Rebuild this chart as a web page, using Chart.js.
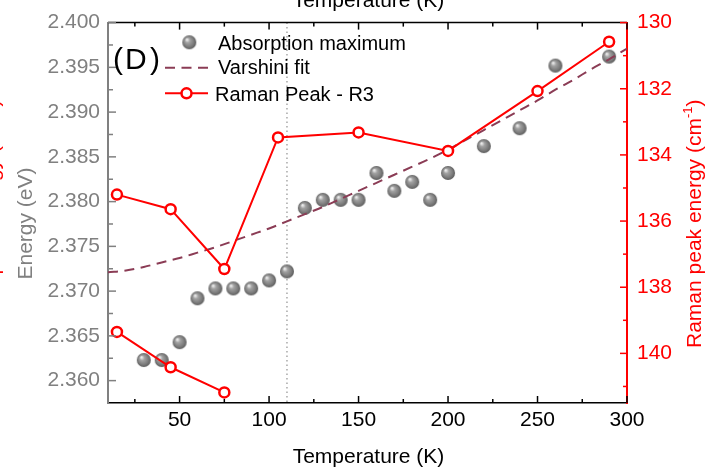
<!DOCTYPE html>
<html>
<head>
<meta charset="utf-8">
<title>Absorption maximum and Raman peak vs temperature</title>
<script src="https://cdn.jsdelivr.net/npm/chart.js@4.4.1/dist/chart.umd.min.js"></script>
<style>
  html, body { margin: 0; padding: 0; background: #fff; }
  #wrap { width: 723px; height: 472px; }
</style>
</head>
<body>
<div id="wrap"><canvas id="chart" width="723" height="472"></canvas></div>
<script>
// ── Values ──
var absorptionT = [30, 40, 50, 60, 70, 80, 90, 100, 110, 120, 130, 140, 150, 160, 170, 180, 190, 200, 220, 240, 260, 290];
var absorptionE = [2.3623, 2.3623, 2.3643, 2.3692, 2.3703, 2.3703, 2.3703, 2.3712, 2.3722, 2.3793, 2.3802, 2.3802,
                   2.3802, 2.3832, 2.3812, 2.3822, 2.3802, 2.3832, 2.3862, 2.3882, 2.3952, 2.3962];

var varshiniT = [10, 20, 30, 40, 50, 60, 70, 80, 90, 100, 110, 120, 130, 140, 150,
                 160, 170, 180, 190, 200, 210, 220, 230, 240, 250, 260, 270, 280, 290, 300];
var varshiniE = [2.3721, 2.3723, 2.3727, 2.3732, 2.3737, 2.3743, 2.3749, 2.3756, 2.3763, 2.3770, 2.3778, 2.3786, 2.3794, 2.3803, 2.3812,
                 2.3821, 2.3830, 2.3839, 2.3848, 2.3858, 2.3869, 2.3880, 2.3891, 2.3902, 2.3913, 2.3925, 2.3936, 2.3948, 2.3959, 2.3971];

var ramanT = [15, 45, 75, 105, 150, 200, 250, 290];
var ramanW = [135.20, 135.64, 137.45, 133.47, 133.32, 133.88, 132.07, 130.58];
// lower branch, drawn as its own line
var ramanLowT = [15, 45, 75];
var ramanLowW = [139.35, 140.42, 141.18];

var xTicks = [50, 100, 150, 200, 250, 300];
var xMinor = [25, 75, 125, 175, 225, 275];
var energyTicks = [2.360, 2.365, 2.370, 2.375, 2.380, 2.385, 2.390, 2.395, 2.400];
var energyMinor = [2.3625, 2.3675, 2.3725, 2.3775, 2.3825, 2.3875, 2.3925, 2.3975];
var ramanTicks = [130, 132, 134, 136, 138, 140];
var ramanMinor = [131, 133, 135, 137, 139, 141];
var markerT = 110;

var FONT = '"Liberation Sans", Arial, Helvetica, sans-serif';
var GREY = '#808080';
var RED = '#ff0000';
var FIT = '#8b3c55';

function pairs(xs, ys) {
  return xs.map(function (x, i) { return { x: x, y: ys[i] }; });
}

// shaded ball used for the absorption points
function sphereImage(r) {
  var c = document.createElement('canvas');
  c.width = c.height = r * 2 + 2;
  var g = c.getContext('2d');
  var cx = r + 1, cy = r + 1;
  var grad = g.createRadialGradient(cx - r * 0.35, cy - r * 0.4, r * 0.08, cx, cy, r);
  grad.addColorStop(0, '#ececec');
  grad.addColorStop(0.3, '#a2a2a2');
  grad.addColorStop(0.75, '#7a7a7a');
  grad.addColorStop(1, '#5c5c5c');
  g.fillStyle = grad;
  g.beginPath();
  g.arc(cx, cy, r, 0, Math.PI * 2);
  g.fill();
  return c;
}
var ball = sphereImage(7);

function fixSize(prop, v) {
  return function (s) { s[prop] = v; };
}
function setTicks(list) {
  return function (s) { s.ticks = list.map(function (v) { return { value: v }; }); };
}

function tickMarks(ctx, scale, values, len, side, area) {
  values.forEach(function (v) {
    var p = scale.getPixelForValue(v);
    ctx.beginPath();
    if (side === 'bottom') { ctx.moveTo(p, area.bottom); ctx.lineTo(p, area.bottom - len); }
    else if (side === 'top') { ctx.moveTo(p, area.top); ctx.lineTo(p, area.top + len); }
    else if (side === 'left') { ctx.moveTo(area.left, p); ctx.lineTo(area.left + len, p); }
    else { ctx.moveTo(area.right, p); ctx.lineTo(area.right - len, p); }
    ctx.stroke();
  });
}

function upText(ctx, text, x, y, align) {
  ctx.save();
  ctx.translate(x, y);
  ctx.rotate(-Math.PI / 2);
  ctx.textAlign = align || 'left';
  ctx.textBaseline = 'alphabetic';
  ctx.fillText(text, 0, 0);
  ctx.restore();
}

// "Raman peak energy (cm-1)" reading upwards, baseline at x
function ramanTitle(ctx, x, y) {
  ctx.save();
  ctx.translate(x, y);
  ctx.rotate(-Math.PI / 2);
  ctx.textAlign = 'left';
  ctx.textBaseline = 'alphabetic';
  ctx.font = '21px ' + FONT;
  var a = 'Raman peak energy (cm';
  ctx.fillText(a, 0, 0);
  var w = ctx.measureText(a).width;
  ctx.font = '13px ' + FONT;
  ctx.fillText('-1', w, -9);
  var w2 = ctx.measureText('-1').width;
  ctx.font = '21px ' + FONT;
  ctx.fillText(')', w + w2, 0);
  ctx.restore();
}

var decor = {
  id: 'decor',
  beforeDatasetsDraw: function (chart) {
    var ctx = chart.ctx, a = chart.chartArea;
    var px = chart.scales.x.getPixelForValue(markerT);
    ctx.save();
    ctx.strokeStyle = '#a8a8a8';
    ctx.lineWidth = 1.5;
    ctx.setLineDash([1.5, 3]);
    ctx.beginPath();
    ctx.moveTo(px, a.top);
    ctx.lineTo(px, a.bottom);
    ctx.stroke();
    ctx.restore();
  },
  afterDraw: function (chart) {
    var ctx = chart.ctx, a = chart.chartArea, s = chart.scales;
    ctx.save();

    // top frame with inward ticks
    ctx.strokeStyle = '#000';
    ctx.lineWidth = 1.5;
    ctx.beginPath();
    ctx.moveTo(a.left, a.top);
    ctx.lineTo(a.right, a.top);
    ctx.stroke();
    tickMarks(ctx, s.x, xTicks, 7, 'top', a);
    tickMarks(ctx, s.x, xMinor, 4, 'top', a);
    tickMarks(ctx, s.x, xTicks, 7, 'bottom', a);
    tickMarks(ctx, s.x, xMinor, 4, 'bottom', a);

    ctx.strokeStyle = GREY;
    tickMarks(ctx, s.yE, energyTicks, 8, 'left', a);
    tickMarks(ctx, s.yE, energyMinor, 5, 'left', a);
    ctx.strokeStyle = RED;
    tickMarks(ctx, s.yR, ramanTicks, 7, 'right', a);
    tickMarks(ctx, s.yR, ramanMinor, 4, 'right', a);

    // axis titles
    ctx.font = '21px ' + FONT;
    ctx.fillStyle = '#000';
    ctx.textAlign = 'center';
    ctx.textBaseline = 'alphabetic';
    ctx.fillText('Temperature (K)', 368.5, 463);
    ctx.fillText('Temperature (K)', 368.5, 7);   // title of the panel above, cut off
    ctx.fillStyle = GREY;
    upText(ctx, 'Energy (eV)', 32, 223.5, 'center');
    ctx.fillStyle = RED;
    ramanTitle(ctx, 701, 348);
    ramanTitle(ctx, -1, 348);                      // neighbouring panel, cut off

    // panel letter
    ctx.fillStyle = '#000';
    ctx.font = '30px ' + FONT;
    ctx.textAlign = 'left';
    ctx.fillText('(', 113, 69);
    ctx.fillText('D', 125, 69);
    ctx.textAlign = 'right';
    ctx.fillText(')', 160, 69);

    // legend
    ctx.font = '20px ' + FONT;
    ctx.textAlign = 'left';
    ctx.drawImage(ball, 189.3 - ball.width / 2, 42.3 - ball.height / 2);
    ctx.fillText('Absorption maximum', 218, 50);

    ctx.strokeStyle = FIT;
    ctx.lineWidth = 2;
    ctx.setLineDash([10, 6.5]);
    ctx.beginPath();
    ctx.moveTo(165, 67.7);
    ctx.lineTo(209, 67.7);
    ctx.stroke();
    ctx.setLineDash([]);
    ctx.fillText('Varshini fit', 218, 74);

    ctx.strokeStyle = RED;
    ctx.beginPath();
    ctx.moveTo(165, 93.3);
    ctx.lineTo(208, 93.3);
    ctx.stroke();
    ctx.fillStyle = '#fff';
    ctx.lineWidth = 2.5;
    ctx.beginPath();
    ctx.arc(186.5, 93.3, 5, 0, Math.PI * 2);
    ctx.fill();
    ctx.stroke();
    ctx.fillStyle = '#000';
    ctx.fillText('Raman Peak - R3', 215, 100.5);

    ctx.restore();
  }
};

var ramanStyle = {
  xAxisID: 'x',
  yAxisID: 'yR',
  showLine: true,
  borderColor: RED,
  borderWidth: 2,
  pointRadius: 5,
  pointBorderWidth: 2.5,
  pointBackgroundColor: '#fff',
  pointBorderColor: RED,
  order: 1
};

new Chart(document.getElementById('chart'), {
  type: 'scatter',
  data: {
    datasets: [
      Object.assign({ label: 'Raman Peak - R3', data: pairs(ramanT, ramanW) }, ramanStyle),
      Object.assign({ label: 'Raman Peak - R3 (low)', data: pairs(ramanLowT, ramanLowW) }, ramanStyle),
      {
        label: 'Varshini fit',
        data: pairs(varshiniT, varshiniE),
        xAxisID: 'x',
        yAxisID: 'yE',
        showLine: true,
        borderColor: FIT,
        borderWidth: 2,
        borderDash: [10, 6.5],
        pointRadius: 0,
        cubicInterpolationMode: 'monotone',
        order: 2
      },
      {
        label: 'Absorption maximum',
        data: pairs(absorptionT, absorptionE),
        xAxisID: 'x',
        yAxisID: 'yE',
        pointStyle: ball,
        pointRadius: 7,
        order: 3
      }
    ]
  },
  options: {
    responsive: false,
    animation: false,
    devicePixelRatio: 1,
    layout: { padding: { top: 16, left: 0, right: 0, bottom: 0 } },
    plugins: {
      legend: { display: false },
      tooltip: { enabled: false }
    },
    scales: {
      x: {
        type: 'linear',
        position: 'bottom',
        min: 10,
        max: 300,
        afterFit: fixSize('height', 69),
        afterBuildTicks: setTicks(xTicks),
        grid: { display: false, drawTicks: false },
        border: { color: '#000', width: 1.5 },
        ticks: { color: '#000', font: { family: FONT, size: 21 }, padding: 5, maxRotation: 0 }
      },
      yE: {
        type: 'linear',
        position: 'left',
        min: 2.3575,
        max: 2.400,
        afterFit: fixSize('width', 108),
        afterBuildTicks: setTicks(energyTicks),
        grid: { display: false, drawTicks: false },
        border: { color: GREY, width: 2 },
        ticks: {
          color: GREY,
          font: { family: FONT, size: 21 },
          padding: 8,
          callback: function (v) { return v.toFixed(3); }
        }
      },
      yR: {
        type: 'linear',
        position: 'right',
        reverse: true,
        min: 130,
        max: 141.5,
        afterFit: fixSize('width', 96),
        afterBuildTicks: setTicks(ramanTicks),
        grid: { display: false, drawTicks: false },
        border: { color: RED, width: 2 },
        ticks: { color: RED, font: { family: FONT, size: 21 }, padding: 10 }
      }
    }
  },
  plugins: [decor]
});
</script>
</body>
</html>
